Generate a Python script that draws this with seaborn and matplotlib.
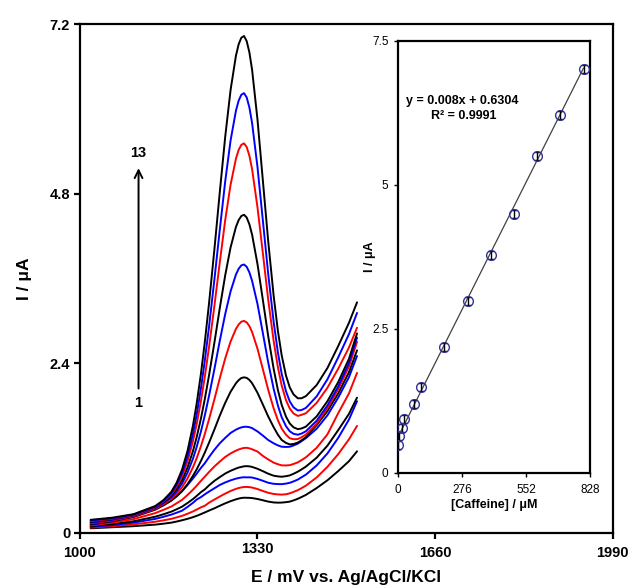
import numpy as np
import pandas as pd
import matplotlib
matplotlib.use('Agg')
import matplotlib.pyplot as plt
import seaborn as sns

potential = [1020, 1060, 1100, 1140, 1155, 1170, 1180, 1190, 1200, 1210,
             1217, 1225, 1232, 1240, 1250, 1260, 1270, 1280, 1290, 1295,
             1300, 1305, 1310, 1315, 1320, 1330, 1340, 1350, 1360, 1368,
             1375, 1383, 1390, 1397, 1405, 1412, 1420, 1440, 1460, 1480,
             1500, 1515]

# currents (uA), curve 1 = lowest concentration
c1 = [.06, .075, .09, .112, .125, .14, .156, .174, .194, .217, .236, .261, .284, .311,
      .343, .379, .413, .444, .47, .481, .489, .493, .492, .491, .488, .475, .457, .438,
      .426, .423, .424, .43, .438, .455, .478, .503, .533, .63, .74, .87, 1.01, 1.15]
c2 = [.07, .09, .115, .153, .172, .194, .215, .237, .266, .298, .325, .357, .378, .423,
      .467, .51, .551, .588, .618, .63, .639, .645, .646, .643, .637, .616, .588, .563,
      .546, .54, .537, .542, .555, .575, .60, .629, .664, .78, .93, 1.11, 1.32, 1.51]
c3 = [.08, .105, .14, .193, .222, .254, .281, .31, .363, .42, .467, .502, .54, .58,
      .627, .674, .709, .739, .763, .772, .779, .783, .781, .782, .779, .759, .733, .705,
      .69, .686, .685, .693, .704, .724, .75, .783, .82, .95, 1.12, 1.34, 1.60, 1.86]
c4 = [.09, .12, .16, .224, .258, .296, .33, .367, .418, .473, .518, .572, .61, .668,
      .732, .785, .835, .874, .906, .92, .929, .938, .94, .937, .929, .903, .869, .833,
      .805, .795, .79, .798, .809, .832, .862, .894, .934, 1.06, 1.23, 1.45, 1.68, 1.91]
c5 = [.10, .14, .19, .275, .32, .369, .415, .464, .532, .606, .663, .732, .79, .857,
      .936, 1.005, 1.07, 1.12, 1.16, 1.176, 1.189, 1.198, 1.20, 1.192, 1.179, 1.147, 1.085, 1.035,
      .99, .967, .951, .95, .954, .971, .994, 1.026, 1.065, 1.20, 1.39, 1.69, 1.97, 2.26]
c6 = [.11, .16, .23, .336, .393, .456, .519, .588, .673, .765, .833, .916, .98, 1.069,
      1.172, 1.264, 1.34, 1.41, 1.457, 1.475, 1.489, 1.497, 1.498, 1.492, 1.479, 1.432, 1.373, 1.31,
      1.264, 1.234, 1.215, 1.212, 1.215, 1.233, 1.259, 1.294, 1.337, 1.47, 1.66, 1.91, 2.20, 2.50]
c7 = [.12, .16, .22, .323, .383, .452, .514, .588, .685, .801, .894, 1.015, 1.13, 1.272,
      1.46, 1.656, 1.836, 1.993, 2.114, 2.158, 2.188, 2.198, 2.19, 2.161, 2.115, 1.98, 1.813, 1.643,
      1.493, 1.385, 1.311, 1.269, 1.248, 1.254, 1.273, 1.307, 1.351, 1.522, 1.72, 1.97, 2.27, 2.58]
c8 = [.13, .17, .23, .335, .399, .476, .55, .642, .766, .922, 1.052, 1.224, 1.392, 1.604,
      1.888, 2.186, 2.464, 2.704, 2.884, 2.946, 2.986, 2.997, 2.976, 2.923, 2.84, 2.604, 2.314, 2.02,
      1.76, 1.589, 1.472, 1.385, 1.336, 1.321, 1.324, 1.35, 1.387, 1.543, 1.76, 2.03, 2.35, 2.70]
c9 = [.14, .18, .24, .347, .415, .50, .586, .696, .848, 1.043, 1.21, 1.433, 1.654, 1.936,
      2.316, 2.716, 3.092, 3.415, 3.654, 3.735, 3.784, 3.796, 3.763, 3.684, 3.565, 3.238, 2.825, 2.407,
      2.037, 1.797, 1.633, 1.506, 1.434, 1.398, 1.385, 1.402, 1.434, 1.584, 1.80, 2.07, 2.40, 2.76]
c10 = [.15, .19, .25, .359, .429, .523, .618, .745, .92, 1.151, 1.35, 1.617, 1.885, 2.226,
       2.691, 3.18, 3.641, 4.037, 4.328, 4.425, 4.483, 4.50, 4.461, 4.365, 4.219, 3.804, 3.295, 2.778,
       2.321, 2.017, 1.808, 1.641, 1.544, 1.49, 1.464, 1.474, 1.50, 1.645, 1.86, 2.13, 2.46, 2.82]
c11 = [.16, .195, .25, .361, .436, .54, .651, .80, 1.01, 1.29, 1.534, 1.865, 2.20, 2.627,
       3.212, 3.828, 4.422, 4.925, 5.295, 5.419, 5.491, 5.512, 5.459, 5.336, 5.146, 4.609, 3.957, 3.296,
       2.716, 2.339, 2.081, 1.875, 1.756, 1.686, 1.651, 1.667, 1.689, 1.837, 2.05, 2.32, 2.62, 2.90]
c12 = [.17, .20, .255, .368, .446, .558, .678, .844, 1.077, 1.393, 1.67, 2.045, 2.427, 2.915,
       3.585, 4.29, 4.97, 5.552, 5.974, 6.116, 6.20, 6.223, 6.162, 6.019, 5.80, 5.179, 4.42, 3.659,
       2.987, 2.548, 2.247, 2.00, 1.857, 1.773, 1.729, 1.735, 1.765, 1.928, 2.17, 2.48, 2.81, 3.11]
c13 = [.18, .21, .26, .375, .457, .577, .709, .894, 1.155, 1.51, 1.825, 2.252, 2.687, 3.246,
       4.013, 4.822, 5.601, 6.267, 6.754, 6.914, 7.008, 7.032, 6.959, 6.80, 6.554, 5.851, 4.987, 4.121,
       3.357, 2.853, 2.509, 2.223, 2.055, 1.956, 1.901, 1.902, 1.932, 2.089, 2.33, 2.64, 2.97, 3.26]
curves = [c1, c2, c3, c4, c5, c6, c7, c8, c9, c10, c11, c12, c13]
curve_colors = ['black', 'red', 'blue'] * 4 + ['black']

# calibration inset
caffeine = [1, 5, 15, 25, 70, 100, 200, 300, 400, 500, 600, 700, 800]
peak_current = [0.49, 0.64, 0.78, 0.94, 1.19, 1.49, 2.19, 2.99, 3.79, 4.49, 5.50, 6.21, 7.02]
peak_err = [0.07] * 13
slope, intercept, r2 = 0.008, 0.6304, 0.9991

rows = []
for n, cur in enumerate(curves, start=1):
    assert len(cur) == len(potential), n
    for e, i in zip(potential, cur):
        rows.append({'E': e, 'I': i, 'scan': n})
df = pd.DataFrame(rows)

sns.set_theme(style='ticks')
plt.rcParams['font.family'] = ['Liberation Sans', 'DejaVu Sans']
plt.rcParams['text.color'] = 'black'
plt.rcParams['axes.labelcolor'] = 'black'

fig = plt.figure(figsize=(6.29, 5.85), dpi=100)
ax = fig.add_axes([0.127, 0.0897, 0.847, 0.869])

sns.lineplot(data=df, x='E', y='I', hue='scan', hue_order=list(range(1, 14)),
             palette=dict(zip(range(1, 14), curve_colors)), sort=False,
             estimator=None, legend=False, lw=1.4, ax=ax)

ax.set_xlim(1000, 1990)
ax.set_ylim(0, 7.2)
ax.set_xticks([1000, 1330, 1660, 1990])
ax.set_yticks([0, 2.4, 4.8, 7.2])
ax.set_yticklabels(['0', '2.4', '4.8', '7.2'])
for s in ax.spines.values():
    s.set_linewidth(1.6)
    s.set_color('black')
ax.tick_params(direction='out', length=4, width=1.6, colors='black', labelsize=10.5)
ax.tick_params(axis='x', pad=6)
ax.tick_params(axis='y', pad=3)
for lab in ax.get_xticklabels() + ax.get_yticklabels():
    lab.set_fontweight('bold')
ax.get_xticklabels()[1].set_y(0.009)
ax.set_xlabel('E / mV vs. Ag/AgCl/KCl', fontsize=12.5, fontweight='bold', labelpad=7)
ax.set_ylabel('I / μA', fontsize=12.5, fontweight='bold', labelpad=13)

ax.annotate('', xy=(1109, 5.2), xytext=(1109, 2.0),
            arrowprops=dict(arrowstyle='->', color='black', lw=1.4, mutation_scale=14))
ax.text(1109, 5.38, '13', ha='center', va='center', fontsize=10.5, fontweight='bold')
ax.text(1109, 1.84, '1', ha='center', va='center', fontsize=10.5, fontweight='bold')

ins = fig.add_axes([0.633, 0.1915, 0.305, 0.7385])
ins.set_facecolor('white')
ins.plot([0, caffeine[-1]], [intercept, slope * caffeine[-1] + intercept],
         color='#404040', lw=0.9, zorder=1)
ins.errorbar(caffeine, peak_current, yerr=peak_err, fmt='o', mfc='none',
             mec='#33339a', mew=1.0, ms=7, ecolor='black', elinewidth=1.0,
             capsize=2.5, capthick=1.0, zorder=3)
ins.set_xlim(0, 828)
ins.set_ylim(0, 7.5)
ins.set_xticks([0, 276, 552, 828])
ins.set_yticks([0, 2.5, 5, 7.5])
ins.set_yticklabels(['0', '2.5', '5', '7.5'])
for s in ins.spines.values():
    s.set_linewidth(1.6)
    s.set_color('black')
ins.tick_params(direction='out', length=3, width=1.0, colors='black', labelsize=8.5)
ins.tick_params(axis='x', pad=5)
ins.tick_params(axis='y', pad=4)
ins.set_xlabel('[Caffeine] / μM', fontsize=9, fontweight='bold', labelpad=2)
ins.set_ylabel('I / μA', fontsize=9, fontweight='bold')
ins.yaxis.set_label_coords(-0.115, 0.5)
ins.text(0.04, 0.861, 'y = 0.008x + 0.6304', transform=ins.transAxes,
         fontsize=9, fontweight='bold', va='center')
ins.text(0.17, 0.826, 'R² = %.4f' % r2, transform=ins.transAxes,
         fontsize=9, fontweight='bold', va='center')

fig.savefig('out.png', dpi=100)
